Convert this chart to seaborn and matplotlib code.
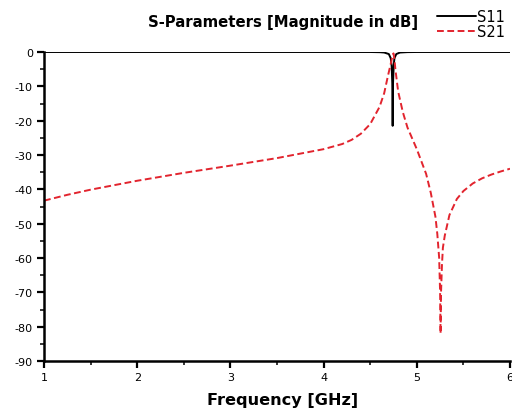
import matplotlib
matplotlib.use("Agg")
import matplotlib.pyplot as plt
from matplotlib.ticker import MultipleLocator
import seaborn as sns
import pandas as pd

# ---- data ----
s11_freq = [1.0, 2.0, 3.0, 4.0, 4.5, 4.6, 4.65, 4.7, 4.72, 4.73, 4.737, 4.741,
            4.745, 4.752, 4.76, 4.78, 4.82, 4.9, 5.0, 5.5, 6.0]
s11_db = [0.0, 0.0, 0.0, 0.0, 0.0, -0.05, -0.15, -0.6, -1.8, -4.0, -9.0, -21.5,
          -9.0, -4.0, -1.8, -0.6, -0.15, -0.03, 0.0, 0.0, 0.0]

s21_freq = [1.0, 1.25, 1.5, 1.75, 2.0, 2.5, 3.0, 3.5, 4.0, 4.2, 4.3, 4.4, 4.5,
            4.6, 4.65, 4.69, 4.72, 4.74, 4.75, 4.76, 4.77, 4.8, 4.85, 4.9, 5.0,
            5.1, 5.15, 5.2, 5.22, 5.24, 5.25, 5.255, 5.26, 5.27, 5.28, 5.3,
            5.35, 5.43, 5.5, 5.6, 5.7, 5.8, 5.9, 6.0]
s21_db = [-43.3, -41.6, -40.1, -38.8, -37.5, -35.2, -33.1, -30.9, -28.3, -26.8,
          -25.6, -23.8, -21.0, -16.0, -12.0, -7.0, -3.5, -1.0, -0.4, -2.0,
          -5.0, -11.5, -17.5, -22.0, -28.3, -35.5, -41.0, -48.0, -53.0, -60.0,
          -70.0, -82.0, -70.0, -62.0, -57.0, -53.5, -47.5, -42.8, -40.5, -38.3,
          -36.8, -35.7, -34.8, -34.0]

series_names = ["S11", "S21"]
x_ticks = [1, 2, 3, 4, 5, 6]
y_ticks = [0, -10, -20, -30, -40, -50, -60, -70, -80, -90]
title_text = "S-Parameters [Magnitude in dB]"
xlabel_text = "Frequency [GHz]"

df = pd.concat([
    pd.DataFrame({"freq": s11_freq, "db": s11_db, "param": series_names[0]}),
    pd.DataFrame({"freq": s21_freq, "db": s21_db, "param": series_names[1]}),
], ignore_index=True)

sns.set_theme(style="ticks")
plt.rcParams["font.family"] = ["DejaVu Sans"]
plt.rcParams["axes.unicode_minus"] = False
plt.rcParams["text.color"] = "black"
plt.rcParams["axes.labelcolor"] = "black"

fig = plt.figure(figsize=(5.12, 4.10), dpi=100)
ax = fig.add_axes([44 / 512, 1 - 362 / 410, (510 - 44) / 512, (362 - 53) / 410])

sns.lineplot(data=df, x="freq", y="db", hue="param", style="param",
             palette={"S11": "black", "S21": "#e2242e"},
             dashes={"S11": "", "S21": (3.5, 1.8)},
             linewidth=1.4, sort=False, estimator=None, ax=ax)

ax.set_xlim(1, 6)
ax.set_ylim(-90, 0)
ax.set_xticks(x_ticks)
ax.set_yticks(y_ticks)
ax.xaxis.set_minor_locator(MultipleLocator(0.5))
ax.yaxis.set_minor_locator(MultipleLocator(5))
ax.tick_params(axis="both", which="major", direction="out", length=5, width=1.6,
               labelsize=8, pad=3, colors="black")
ax.tick_params(axis="both", which="minor", direction="out", length=3, width=1.3)
for side in ["left", "bottom"]:
    ax.spines[side].set_linewidth(1.8)
    ax.spines[side].set_color("black")
for side in ["top", "right"]:
    ax.spines[side].set_visible(False)

ax.set_xlabel(xlabel_text, fontsize=11.6, fontweight="bold", color="black")
ax.xaxis.label.set_va("center")
ax.xaxis.set_label_coords((283 - 44) / 466, (362 - 400.5) / 309)
ax.set_ylabel("")
fig.text(283 / 512, 1 - 22.5 / 410, title_text, ha="center", va="center",
         fontsize=10.7, fontweight="bold", color="black")

handles, labels = ax.get_legend_handles_labels()
leg = ax.legend(handles, labels, loc="upper right",
                bbox_to_anchor=(1.0, 1.0 - 3.7 / 410),
                bbox_transform=fig.transFigure, frameon=False, fontsize=10.5,
                handlelength=2.67, handletextpad=0.1, labelspacing=0.0,
                borderaxespad=0.2, borderpad=0.25)
for t in leg.get_texts():
    t.set_color("black")

fig.savefig("out.png", dpi=100)
